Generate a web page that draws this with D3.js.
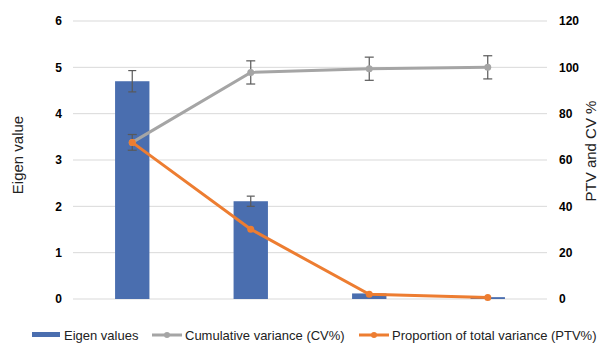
<!DOCTYPE html>
<html><head><meta charset="utf-8">
<script src="https://cdn.jsdelivr.net/npm/d3@7"></script>
<style>body{margin:0;background:#fff}svg{display:block;font-family:"Liberation Sans",Arial,sans-serif}</style>
</head><body>
<svg id="c" width="599" height="344"></svg>
<script>
const categories = ["PC1", "PC2", "PC3", "PC4"];
const eigenValues = [4.70, 2.11, 0.12, 0.04];
const eigenErr = [0.23, 0.11, 0, 0];
const cumulativeCV = [67.6, 97.8, 99.4, 100.0];
const cumulativeErr = [3.4, 5.0, 5.0, 5.0];
const ptv = [67.6, 30.1, 2.0, 0.7];
const leftTicks = [0, 1, 2, 3, 4, 5, 6];
const rightTicks = [0, 20, 40, 60, 80, 100, 120];

const svg = d3.select("#c");
const L = 73, R = 547, T = 21, B = 299;
const x = d3.scaleBand().domain(categories).range([L, R]).paddingInner(0.71).paddingOuter(0.355);
const xc = d => x(d) + x.bandwidth() / 2;
const yL = d3.scaleLinear().domain([0, 6]).range([B, T]);
const yR = d3.scaleLinear().domain([0, 120]).range([B, T]);

// gridlines
svg.append("g").selectAll("line").data(leftTicks).join("line")
  .attr("x1", L).attr("x2", R).attr("y1", d => yL(d)).attr("y2", d => yL(d))
  .attr("stroke", "#d9d9d9").attr("stroke-width", 1);

// left axis
const axL = svg.append("g").attr("transform", `translate(${L},0)`)
  .call(d3.axisLeft(yL).tickValues(leftTicks).tickSize(0).tickPadding(11).tickFormat(d3.format("d")));
axL.select(".domain").remove();
axL.selectAll("text").attr("font-size", 12).attr("font-weight", "bold").attr("fill", "#000").attr("font-family", "Liberation Sans, Arial, sans-serif");

// right axis
const axR = svg.append("g").attr("transform", `translate(${R},0)`)
  .call(d3.axisRight(yR).tickValues(rightTicks).tickSize(0).tickPadding(12).tickFormat(d3.format("d")));
axR.select(".domain").remove();
axR.selectAll("text").attr("font-size", 12).attr("font-weight", "bold").attr("fill", "#000").attr("font-family", "Liberation Sans, Arial, sans-serif");

// axis titles
svg.append("text").attr("transform", "translate(23,155) rotate(-90)").attr("text-anchor", "middle")
  .attr("font-size", 15).attr("fill", "#222").text("Eigen value");
svg.append("text").attr("transform", "translate(596,151) rotate(-90)").attr("text-anchor", "middle")
  .attr("font-size", 15).attr("fill", "#222").text("PTV and CV %");

// bars
svg.append("g").selectAll("rect").data(categories).join("rect")
  .attr("x", d => x(d)).attr("width", x.bandwidth())
  .attr("y", (d, i) => yL(eigenValues[i])).attr("height", (d, i) => B - yL(eigenValues[i]))
  .attr("fill", "#4a6eaf");

function errBars(g, vals, errs, scale, cap) {
  categories.forEach((c, i) => {
    if (!errs[i]) return;
    const cx = xc(c), y1 = scale(vals[i] + errs[i]), y2 = scale(vals[i] - errs[i]);
    g.append("line").attr("x1", cx).attr("x2", cx).attr("y1", y1).attr("y2", y2);
    g.append("line").attr("x1", cx - cap).attr("x2", cx + cap).attr("y1", y1).attr("y2", y1);
    g.append("line").attr("x1", cx - cap).attr("x2", cx + cap).attr("y1", y2).attr("y2", y2);
  });
}
const eb1 = svg.append("g").attr("stroke", "#595959").attr("stroke-width", 1.2);
errBars(eb1, eigenValues, eigenErr, yL, 4);

// cumulative line
const line = d3.line().x((d, i) => xc(categories[i]));
svg.append("path").datum(cumulativeCV).attr("fill", "none").attr("stroke", "#a5a5a5").attr("stroke-width", 3)
  .attr("d", line.y(d => yR(d)));
const eb2 = svg.append("g").attr("stroke", "#595959").attr("stroke-width", 1.2);
errBars(eb2, cumulativeCV, cumulativeErr, yR, 4.5);
svg.append("g").selectAll("circle").data(cumulativeCV).join("circle")
  .attr("cx", (d, i) => xc(categories[i])).attr("cy", d => yR(d)).attr("r", 3.5).attr("fill", "#a5a5a5");

// PTV line
svg.append("path").datum(ptv).attr("fill", "none").attr("stroke", "#ed7d31").attr("stroke-width", 3)
  .attr("d", d3.line().x((d, i) => xc(categories[i])).y(d => yR(d)));
svg.append("g").selectAll("circle").data(ptv).join("circle")
  .attr("cx", (d, i) => xc(categories[i])).attr("cy", d => yR(d)).attr("r", 3.5).attr("fill", "#ed7d31");

// legend
const lg = svg.append("g").attr("font-size", 13).attr("fill", "#222");
const ly = 335;
lg.append("rect").attr("x", 32).attr("y", ly - 3).attr("width", 28).attr("height", 5).attr("fill", "#4a6eaf");
lg.append("text").attr("x", 64).attr("y", ly + 5).text("Eigen values");
lg.append("line").attr("x1", 152).attr("x2", 182).attr("y1", ly).attr("y2", ly).attr("stroke", "#a5a5a5").attr("stroke-width", 3);
lg.append("circle").attr("cx", 167).attr("cy", ly).attr("r", 3).attr("fill", "#a5a5a5");
lg.append("text").attr("x", 185).attr("y", ly + 5).text("Cumulative variance (CV%)");
lg.append("line").attr("x1", 359).attr("x2", 389).attr("y1", ly).attr("y2", ly).attr("stroke", "#ed7d31").attr("stroke-width", 3);
lg.append("circle").attr("cx", 374).attr("cy", ly).attr("r", 3).attr("fill", "#ed7d31");
lg.append("text").attr("x", 392).attr("y", ly + 5).text("Proportion of total variance (PTV%)");
</script>
</body></html>
